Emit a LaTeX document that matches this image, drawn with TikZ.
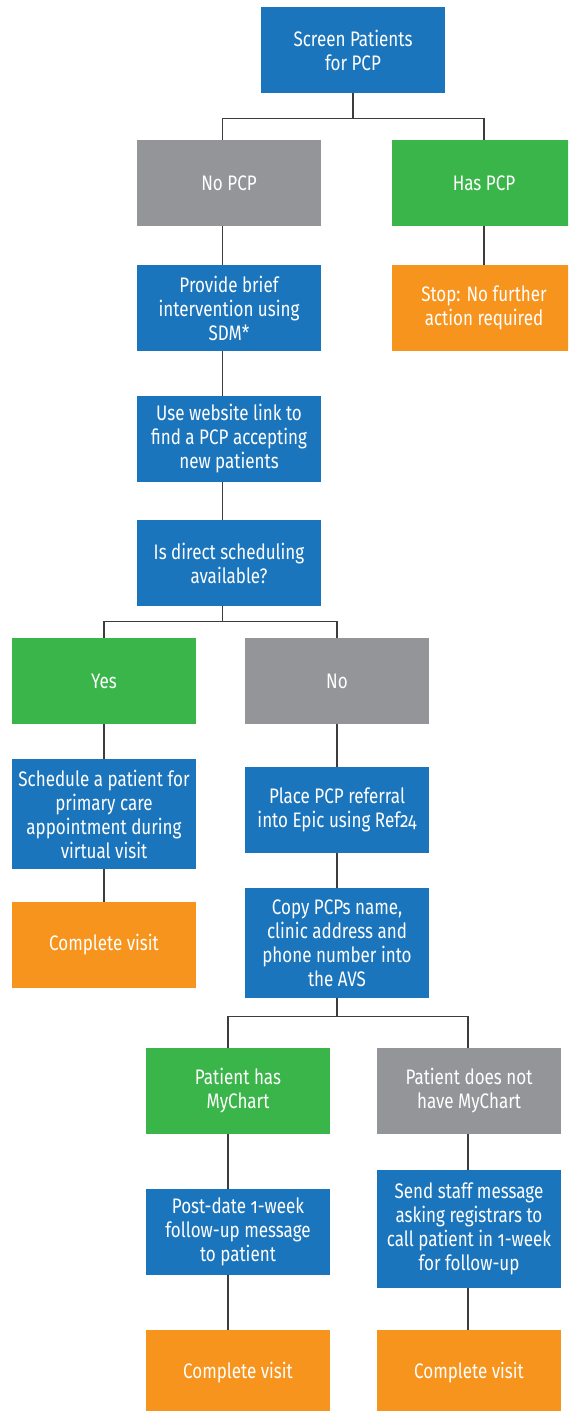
\documentclass[tikz,border=0pt]{standalone}
\usepackage{fontspec}
\setmainfont{Fira Sans}[Numbers=OldStyle, FakeStretch=0.81]
\definecolor{fcblue}{HTML}{1B75BC}
\definecolor{fcgray}{HTML}{939598}
\definecolor{fcgreen}{HTML}{3AB54A}
\definecolor{fcorange}{HTML}{F7941D}
\definecolor{fcline}{HTML}{3C3C3C}
\tikzset{
  box/.style={minimum width=184pt, minimum height=86pt, inner sep=2pt,
    text=white, align=center, font=\fontsize{21pt}{24pt}\selectfont, draw=none},
  bluebox/.style={box, fill=fcblue},
  graybox/.style={box, fill=fcgray},
  greenbox/.style={box, fill=fcgreen},
  orangebox/.style={box, fill=fcorange},
  conn/.style={draw=fcline, line width=1.1pt},
}
\begin{document}
\begin{tikzpicture}[x=1pt,y=1pt]
\useasboundingbox (0,0) rectangle (568,-1411);
\clip (0,0) rectangle (568,-1411);
\fill[white] (0,0) rectangle (568,-1411);

\node[bluebox] (screen) at (353,-50) {Screen Patients\\for PCP};
\node[graybox] (nopcp) at (229,-183) {No PCP};
\node[greenbox] (haspcp) at (484,-183) {Has PCP};
\node[bluebox] (provide) at (229,-308) {Provide brief\\intervention using\\SDM*};
\node[orangebox] (stop) at (484,-308) {Stop: No further\\action required};
\node[bluebox] (website) at (229,-439) {Use website link to\\find a PCP accepting\\new patients};
\node[bluebox] (isdirect) at (229,-563) {Is direct scheduling\\available?};
\node[greenbox] (yes) at (104,-681) {Yes};
\node[graybox] (no) at (337,-681) {No};
\node[bluebox, minimum height=110pt] (schedule) at (104,-814) {Schedule a patient for\\primary care\\appointment during\\virtual visit};
\node[orangebox] (completea) at (104,-945) {Complete visit};
\node[bluebox] (place) at (337,-810) {Place PCP referral\\into Epic using Ref24};
\node[bluebox, minimum height=110pt] (copy) at (337,-943) {Copy PCPs name,\\clinic address and\\phone number into\\the AVS};
\node[greenbox] (hasmc) at (238,-1091) {Patient has\\MyChart};
\node[graybox] (notmc) at (469,-1091) {Patient does not\\have MyChart};
\node[bluebox] (postdate) at (238,-1232) {Post-date 1-week\\follow-up message\\to patient};
\node[bluebox, minimum height=118pt] (send) at (469,-1229) {Send staff message\\asking registrars to\\call patient in 1-week\\for follow-up};
\node[orangebox] (completeb) at (238,-1373) {Complete visit};
\node[orangebox] (completec) at (469,-1373) {Complete visit};

% connectors
\draw[conn] (screen.south) -- ++(0,-25) coordinate (b1);
\draw[conn] (b1) -| ([xshift=-6.5pt]nopcp.north);
\draw[conn] (b1) -| (haspcp.north);
\draw[conn] ([xshift=-6.5pt]nopcp.south) -- ([xshift=-6.5pt]provide.north);
\draw[conn] (haspcp.south) -- (stop.north);
\draw[conn] ([xshift=-6.5pt]provide.south) -- ([xshift=-6.5pt]website.north);
\draw[conn] ([xshift=-6.5pt]website.south) -- ([xshift=-6.5pt]isdirect.north);
\draw[conn] ([xshift=-6.5pt]isdirect.south) -- ++(0,-15) coordinate (b2);
\draw[conn] (b2) -| (yes.north);
\draw[conn] (b2) -| (no.north);
\draw[conn] (yes.south) -- (schedule.north);
\draw[conn] (schedule.south) -- (completea.north);
\draw[conn] (no.south) -- (place.north);
\draw[conn] (place.south) -- (copy.north);
\draw[conn] (copy.south) -- ++(0,-18) coordinate (b3);
\draw[conn] (b3) -| ([xshift=-10pt]hasmc.north);
\draw[conn] (b3) -| ([xshift=-1pt]notmc.north);
\draw[conn] ([xshift=-10pt]hasmc.south) -- ([xshift=-10pt]postdate.north);
\draw[conn] ([xshift=-10pt]postdate.south) -- ([xshift=-10pt]completeb.north);
\draw[conn] ([xshift=-1pt]notmc.south) -- ([xshift=-1pt]send.north);
\draw[conn] ([xshift=-1pt]send.south) -- ([xshift=-1pt]completec.north);
\end{tikzpicture}
\end{document}
